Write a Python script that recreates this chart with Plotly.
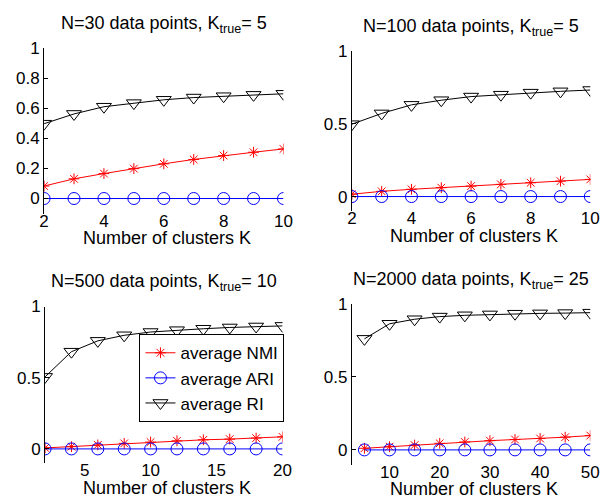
import plotly.graph_objects as go

# ---------------- data ----------------
K_30 = [2, 3, 4, 5, 6, 7, 8, 9, 10]
NMI_30 = [0.083, 0.131, 0.166, 0.199, 0.231, 0.260, 0.286, 0.308, 0.330]
ARI_30 = [0, 0, 0, 0, 0, 0, 0, 0, 0]
RI_30 = [0.498, 0.563, 0.611, 0.635, 0.657, 0.672, 0.681, 0.690, 0.697]

K_100 = [2, 3, 4, 5, 6, 7, 8, 9, 10]
NMI_100 = [0.016, 0.036, 0.050, 0.061, 0.072, 0.084, 0.095, 0.106, 0.118]
ARI_100 = [0, 0, 0, 0, 0, 0, 0, 0, 0]
RI_100 = [0.498, 0.572, 0.631, 0.663, 0.688, 0.701, 0.715, 0.724, 0.733]

K_500 = [2, 4, 6, 8, 10, 12, 14, 16, 18, 20]
NMI_500 = [0.007, 0.016, 0.028, 0.039, 0.048, 0.057, 0.064, 0.069, 0.076, 0.085]
ARI_500 = [0, 0, 0, 0, 0, 0, 0, 0, 0, 0]
RI_500 = [0.506, 0.683, 0.759, 0.798, 0.821, 0.834, 0.844, 0.853, 0.860, 0.864]

K_2000 = [5, 10, 15, 20, 25, 30, 35, 40, 45, 50]
NMI_2000 = [0.011, 0.022, 0.033, 0.045, 0.054, 0.063, 0.071, 0.078, 0.087, 0.098]
ARI_2000 = [0, 0, 0, 0, 0, 0, 0, 0, 0, 0]
RI_2000 = [0.759, 0.862, 0.893, 0.911, 0.920, 0.926, 0.931, 0.933, 0.935, 0.938]

TITLES = ["N=30 data points, K<sub>true</sub>= 5",
          "N=100 data points, K<sub>true</sub>= 5",
          "N=500 data points, K<sub>true</sub>= 10",
          "N=2000 data points, K<sub>true</sub>= 25"]
XLABEL = "Number of clusters K"
SERIES_NAMES = ["average NMI", "average ARI", "average RI"]

X_TICKS = [[2, 4, 6, 8, 10], [2, 4, 6, 8, 10], [5, 10, 15, 20], [10, 20, 30, 40, 50]]
Y_TICKS = [[0, 0.2, 0.4, 0.6, 0.8, 1], [0, 0.5, 1], [0, 0.5, 1], [0, 0.5, 1]]
X_RANGES = [[2, 10], [2, 10], [2, 20], [2.5, 50]]

panels = [
    (K_30, NMI_30, ARI_30, RI_30),
    (K_100, NMI_100, ARI_100, RI_100),
    (K_500, NMI_500, ARI_500, RI_500),
    (K_2000, NMI_2000, ARI_2000, RI_2000),
]

W, H = 612, 499
# pixel boxes: (left, right, top_y_at_1, bottom_y_at_-0.1)
boxes = [
    (40, 285, 40, 208.3),
    (355, 599, 43, 205.8),
    (41, 284, 303, 462.5),
    (355, 599, 300, 463.9),
]

FONT = "Liberation Sans, Arial, Helvetica, sans-serif"
fig = go.Figure()

styles = [
    dict(color="#ff0000", symbol="asterisk-open", size=9),
    dict(color="#0000ff", symbol="circle-open", size=12),
    dict(color="#000000", symbol="triangle-down-open", size=13),
]

for i, (k, nmi, ari, ri) in enumerate(panels):
    ax = "" if i == 0 else str(i + 1)
    for j, (vals, name) in enumerate(zip([nmi, ari, ri], SERIES_NAMES)):
        st = styles[j]
        fig.add_trace(go.Scatter(
            x=k, y=vals, mode="lines+markers", name=name,
            xaxis="x" + ax, yaxis="y" + ax,
            line=dict(color=st["color"], width=1),
            marker=dict(symbol=st["symbol"], size=st["size"], color=st["color"],
                        line=dict(color=st["color"], width=1)),
            showlegend=(i == 2), legendrank=j + 1,
        ))
    l, r, t, b = boxes[i]
    xd = [l / W, r / W]
    yd = [1 - b / H, 1 - t / H]
    fig.layout["xaxis" + ax] = dict(
        domain=xd, range=X_RANGES[i], tickvals=X_TICKS[i], showline=False,
        showgrid=False, zeroline=False, ticks="", anchor="free",
        position=1 - (b - 5) / H,
        tickfont=dict(size=17, color="black", family=FONT),
    )
    fig.layout["yaxis" + ax] = dict(
        domain=yd, range=[-0.1, 1], tickvals=Y_TICKS[i], showline=True,
        linecolor="black", linewidth=1, showgrid=False, zeroline=False,
        ticks="inside", ticklen=4, tickcolor="black", anchor="x" + ax,
        tickfont=dict(size=17, color="black", family=FONT),
    )
    cx = (l + r) / 2 / W
    fig.add_annotation(text=TITLES[i], x=cx, y=1 - (t - 24) / H, xref="paper", yref="paper",
                       xanchor="center", yanchor="middle", showarrow=False,
                       font=dict(size=18, color="black", family=FONT))
    fig.add_annotation(text=XLABEL, x=cx + 3 / W, y=1 - (b + 25) / H, xref="paper", yref="paper",
                       xanchor="center", yanchor="middle", showarrow=False,
                       font=dict(size=18, color="black", family=FONT))

fig.update_layout(
    width=W, height=H, margin=dict(l=0, r=0, t=0, b=0),
    plot_bgcolor="white", paper_bgcolor="white",
    font=dict(family=FONT, color="black"),
    legend=dict(x=286 / W, y=1 - 376 / H, xanchor="right", yanchor="middle",
                bgcolor="white", bordercolor="black", borderwidth=1,
                font=dict(size=17, color="black", family=FONT),
                tracegroupgap=0, itemwidth=30),
)

fig.write_html("out.html", config={"displayModeBar": False},
               post_script="document.body.style.margin='0px';")
